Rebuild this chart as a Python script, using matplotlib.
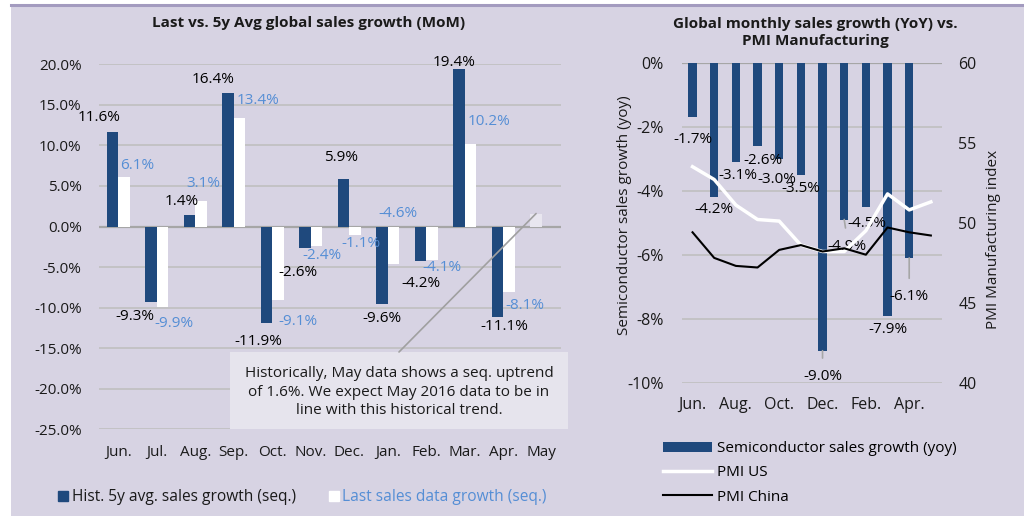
import numpy as np
import matplotlib.pyplot as plt
from matplotlib.patches import Rectangle, Patch
from matplotlib.lines import Line2D

plt.rcParams['font.family'] = ['Open Sans', 'DejaVu Sans']

months = ['Jun.', 'Jul.', 'Aug.', 'Sep.', 'Oct.', 'Nov.', 'Dec.', 'Jan.', 'Feb.', 'Mar.', 'Apr.', 'May']
# left chart (MoM, %)
hist_avg = [11.6, -9.3, 1.4, 16.4, -11.9, -2.6, 5.9, -9.6, -4.2, 19.4, -11.1, 1.6]
last_sales = [6.1, -9.9, 3.1, 13.4, -9.1, -2.4, -1.1, -4.6, -4.1, 10.2, -8.1]
# right chart
semi_yoy = [-1.7, -4.2, -3.1, -2.6, -3.0, -3.5, -9.0, -4.9, -4.5, -7.9, -6.1]
pmi_us = [53.5, 52.7, 51.1, 50.2, 50.1, 48.6, 48.2, 48.2, 49.5, 51.8, 50.8, 51.3]
pmi_china = [49.4, 47.8, 47.3, 47.2, 48.3, 48.6, 48.2, 48.4, 48.0, 49.7, 49.4, 49.2]

# label nudges in pixels (dx, dy), hand placed like the original
hist_off = [(-13, 15), (-16, -15), (-8, 14), (-15, 14), (-8, -18), (-7, -25), (-3, 21),
            (0, -14), (0, -23), (-5, 7), (7, -10)]
last_off = [(13, 12), (11, -17), (2, 18), (18, 17), (20, -21), (5, -10), (6, -8),
            (4, 50), (10, -8), (18, 22), (16, -13)]
semi_off = [(0, -22), (0, -12), (2, -14), (5, -15), (-2, -21), (0, -14), (0, -26),
            (3, -27), (1, -17), (0, -14), (0, -39)]

DARK = '#1F497D'
LBLUE = '#558ED5'
BG = '#D7D3E3'
GRID = '#BFBFBF'
TXT = '#1a1a1a'
FS = 11
px = 0.72
W, H = 1024, 516

fig = plt.figure(figsize=(10.24, 5.16), dpi=100)
fig.patch.set_facecolor('white')
fig.patches.append(Rectangle((11 / W, 0), 1, 1 - 5 / H, transform=fig.transFigure,
                             facecolor=BG, edgecolor='none', zorder=-10))
fig.lines.append(Line2D([11 / W, 1], [1 - 5 / H] * 2, transform=fig.transFigure,
                        color='#A39BBF', lw=2.2))

# ---------------- left chart ----------------
ax = fig.add_axes([99.1 / W, 1 - 429.3 / H, 462 / W, 365 / H])
ax.set_facecolor('none')
x = np.arange(len(months))
w = 0.3
hc = [DARK] * (len(hist_avg) - 1) + ['#E8E6EF']
ax.bar(x[:len(hist_avg)] - w / 2, hist_avg, w, color=hc, zorder=3)
ax.bar(x[:len(last_sales)] + w / 2, last_sales, w, color='white', zorder=3)
ax.set_xlim(-0.5, 11.5)
ax.set_ylim(-25, 20)
ax.set_yticks(np.arange(-25, 21, 5))
ax.yaxis.set_major_formatter(lambda v, p: f'{v:.1f}%')
ax.set_xticks(x)
ax.set_xticklabels(months)
ax.tick_params(length=0, labelsize=FS, colors=TXT)
ax.tick_params(axis='y', pad=12.5)
ax.tick_params(axis='x', pad=11)
for s in ax.spines.values():
    s.set_visible(False)
for t in np.arange(-25, 21, 5):
    ax.axhline(t, color='#A6A6A6' if t == 0 else GRID, lw=1.6 if t == 0 else 1.2, zorder=1)

for i, v in enumerate(hist_avg[:11]):
    dx, dy = hist_off[i]
    ax.annotate(f'{v:.1f}%', (i - w / 2, v), xytext=(dx * px, dy * px), textcoords='offset points',
                ha='center', va='center', fontsize=FS, color='black', zorder=5)
for i, v in enumerate(last_sales):
    dx, dy = last_off[i]
    ax.annotate(f'{v:.1f}%', (i + w / 2, v), xytext=(dx * px, dy * px), textcoords='offset points',
                ha='center', va='center', fontsize=FS, color=LBLUE, zorder=5)

# callout box for the expected May value
ax.add_patch(Rectangle((230 / W, 1 - 429 / H), 338 / W, 77 / H, transform=fig.transFigure,
                       facecolor='#E6E4ED', edgecolor='none', zorder=6, clip_on=False))
ax.text(399 / W, 1 - 392 / H,
        'Historically, May data shows a seq. uptrend\nof 1.6%. We expect May 2016 data to be in\nline with this historical trend.',
        transform=fig.transFigure, ha='center', va='center', fontsize=FS, color=TXT,
        linespacing=1.32, zorder=7)
ax.annotate('', xy=(11 - w / 2, hist_avg[11]), xytext=(399 / W, 1 - 352 / H),
            textcoords='figure fraction', zorder=7,
            arrowprops=dict(arrowstyle='-', color='#A0A0A0', lw=1.2, shrinkA=0, shrinkB=0))

fig.text(308.7 / W, 1 - 23.3 / H, 'Last vs. 5y Avg global sales growth (MoM)', fontsize=11,
         fontweight='bold', ha='center', va='center', color=TXT)

leg = fig.legend(handles=[Line2D([], [], marker='s', ls='none', color=DARK, markersize=7.2),
                          Line2D([], [], marker='s', ls='none', color='white', markersize=7.2)],
                 labels=['Hist. 5y avg. sales growth (seq.)', 'Last sales data growth (seq.)'],
                 loc='center left', bbox_to_anchor=(58.3 / W, 1 - 497 / H), ncol=2,
                 frameon=False, fontsize=11.2, handlelength=0.65, handletextpad=0.22,
                 columnspacing=2.1, borderpad=0, borderaxespad=0)
leg.get_texts()[0].set_color(TXT)
leg.get_texts()[1].set_color(LBLUE)

# ---------------- right chart ----------------
ax1 = fig.add_axes([681.7 / W, 1 - 382.7 / H, 260 / W, 320 / H])
ax1.set_facecolor('none')
xs = np.arange(len(semi_yoy))
ax1.bar(xs, semi_yoy, 0.38, color=DARK, zorder=3)
ax1.set_xlim(-0.5, 11.5)
ax1.set_ylim(-10, 0)
ax1.set_yticks(np.arange(-10, 1, 2))
ax1.yaxis.set_major_formatter(lambda v, p: f'{v:.0f}%')
ax1.set_xticks(x[::2])
ax1.set_xticklabels(months[::2])
ax1.tick_params(length=0, labelsize=11.5, colors=TXT)
ax1.tick_params(axis='y', pad=13)
ax1.tick_params(axis='x', pad=10)
for s in ax1.spines.values():
    s.set_visible(False)
for t in np.arange(-10, 1, 2):
    ax1.axhline(t, color='#A6A6A6' if t == 0 else GRID, lw=1.6 if t == 0 else 1.2, zorder=1)
ax1.set_ylabel('Semiconductor sales growth (yoy)', fontsize=FS, color=TXT)
ax1.yaxis.set_label_coords(-0.19, 0.524)

for i, v in enumerate(semi_yoy):
    dx, dy = semi_off[i]
    if months[i] in ('Dec.', 'Jan.', 'Apr.'):
        ax1.annotate(f'{v:.1f}%', (i, v), xytext=(dx * px, dy * px), textcoords='offset points',
                     ha='center', va='center', fontsize=FS, color='black', zorder=5,
                     arrowprops=dict(arrowstyle='-', color='#A6A6A6', lw=1.2,
                                     relpos=(0.5, 1.0), shrinkA=6, shrinkB=0))
    else:
        ax1.annotate(f'{v:.1f}%', (i, v), xytext=(dx * px, dy * px), textcoords='offset points',
                     ha='center', va='center', fontsize=FS, color='black', zorder=5)

ax2 = ax1.twinx()
ax2.plot(x, pmi_us, color='white', lw=2.5, zorder=4)
ax2.plot(x, pmi_china, color='black', lw=1.5, zorder=4)
ax2.set_ylim(40, 60)
ax2.set_yticks([40, 45, 50, 55, 60])
ax2.tick_params(length=0, labelsize=11.5, colors=TXT, pad=12)
for s in ax2.spines.values():
    s.set_visible(False)
ax2.set_ylabel('PMI Manufacturing index', fontsize=FS, color=TXT)
ax2.yaxis.set_label_coords(1.172, 0.449)

fig.text(815.8 / W, 1 - 32.5 / H, 'Global monthly sales growth (YoY) vs.\nPMI Manufacturing',
         fontsize=11, fontweight='bold', ha='center', va='center', color=TXT,
         linespacing=1.25)

fig.legend(handles=[Patch(facecolor=DARK), Line2D([], [], color='white', lw=2.5),
                    Line2D([], [], color='black', lw=1.5)],
           labels=['Semiconductor sales growth (yoy)', 'PMI US', 'PMI China'],
           loc='center left', bbox_to_anchor=(663.3 / W, 1 - 473 / H),
           frameon=False, fontsize=FS, handlelength=3.17, handleheight=0.65,
           handletextpad=0.33, labelspacing=0.6, borderpad=0, borderaxespad=0)

fig.savefig('out.png', dpi=100)
